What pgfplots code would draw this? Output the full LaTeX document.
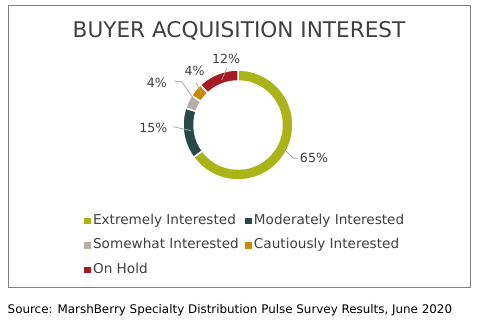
\documentclass[border=0pt]{standalone}
\usepackage{fontspec}
\setmainfont{DejaVu Sans}
\usepackage{pgfplots}
\usepackage{pgfplotstable}
\pgfplotsset{compat=1.18}
\definecolor{cA}{RGB}{170,180,22}
\definecolor{cB}{RGB}{38,74,72}
\definecolor{cC}{RGB}{181,173,168}
\definecolor{cD}{RGB}{204,136,0}
\definecolor{cE}{RGB}{165,28,36}
\definecolor{txt}{RGB}{64,64,64}
\definecolor{frame}{RGB}{128,128,128}
\definecolor{lead}{RGB}{166,166,166}

\pgfplotstableread{
label value
Extremely 65
Moderately 15
Somewhat 4
Cautiously 4
OnHold 12
}\datatable

\begin{document}
\begin{tikzpicture}
\begin{axis}[
  x=1pt, y=1pt, xmin=0, xmax=483, ymin=0, ymax=322,
  scale only axis, hide axis, clip=false,
  legend columns=2,
  legend cell align=left,
  legend image code/.code={\fill[#1] (0pt,-2.75pt) rectangle (5.5pt,2.75pt); \path (6.5pt,0pt);},
  legend style={draw=none, fill=none, at={(axis cs:84,109)}, anchor=north west,
    font=\fontsize{13.6}{16}\selectfont, text=txt, inner sep=0pt,
    nodes={inner ysep=1pt, inner xsep=2pt, text height=10pt, text depth=3pt},
    row sep=9.5pt},
]
\addlegendimage{cA}
\addlegendentry{\makebox[150pt][l]{Extremely Interested}}
\addlegendimage{cB}
\addlegendentry{Moderately Interested}
\addlegendimage{cC}
\addlegendentry{\makebox[150pt][l]{Somewhat Interested}}
\addlegendimage{cD}
\addlegendentry{Cautiously Interested}
\addlegendimage{cE}
\addlegendentry{On Hold}

\pgfplotsextra{
  \path (axis cs:0,0) rectangle (axis cs:483,322);
  \draw[frame, line width=1pt] (axis cs:8,34) rectangle (axis cs:470,316);
  \node[anchor=base, inner sep=0pt, text=txt, font=\fontsize{21.6}{25}\selectfont]
    at (axis cs:239,284.7) {BUYER ACQUISITION INTEREST};
  \node[anchor=base west, inner sep=0pt, text=black, font=\fontsize{11.9}{14}\selectfont]
    at (axis cs:7.5,8.7) {Source: MarshBerry Specialty Distribution Pulse Survey Results, June 2020};
  \gdef\startangle{90}
  \foreach \i/\col in {0/cA,1/cB,2/cC,3/cD,4/cE} {
    \pgfplotstablegetelem{\i}{value}\of\datatable
    \pgfmathsetmacro{\sweep}{3.6*\pgfplotsretval}
    \pgfmathsetmacro{\endangle}{\startangle-\sweep}
    \fill[\col, draw=white, line width=1.5pt]
      ([shift={(\startangle:55pt)}]axis cs:238,197)
      arc[start angle=\startangle, end angle=\endangle, radius=55pt]
      -- ([shift={(\endangle:44pt)}]axis cs:238,197)
      arc[start angle=\endangle, end angle=\startangle, radius=44pt] -- cycle;
    \xdef\startangle{\endangle}
  }
  \draw[lead, line width=0.75pt] (axis cs:282.3,174.7) -- (axis cs:293.3,163.7) -- (axis cs:298,163.7);
  \draw[lead, line width=0.75pt] (axis cs:173.3,195.3) -- (axis cs:191,191.3);
  \draw[lead, line width=0.75pt] (axis cs:174,241) -- (axis cs:181.7,240.3) -- (axis cs:194,222.7);
  \draw[lead, line width=0.75pt] (axis cs:196,239.3) -- (axis cs:201.7,228.7);
  \draw[lead, line width=0.75pt] (axis cs:227,253.7) -- (axis cs:221.7,242);
  \begin{scope}[every node/.style={anchor=base, inner sep=0pt, text=txt, font=\fontsize{12.6}{14}\selectfont}]
  \node at (axis cs:314,159.3) {65\%};
  \node at (axis cs:153.3,189.3) {15\%};
  \node at (axis cs:156.8,234.7) {4\%};
  \node at (axis cs:194.7,246) {4\%};
  \node at (axis cs:226.2,258.7) {12\%};
  \end{scope}
}
\end{axis}
\end{tikzpicture}
\end{document}
